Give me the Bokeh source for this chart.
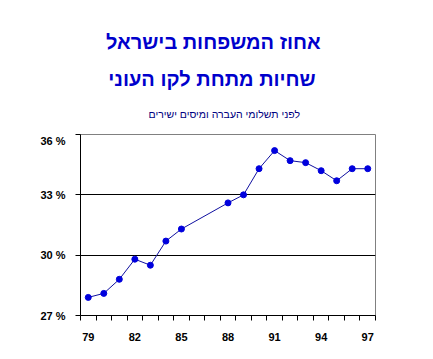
from bokeh.plotting import figure
from bokeh.layouts import column
from bokeh.models import FixedTicker, Range1d, PrintfTickFormatter
from bokeh.core.properties import value
from bokeh.embed import file_html
from bokeh.resources import INLINE

years = [79, 80, 81, 82, 83, 84, 85, 88, 89, 90, 91, 92, 93, 94, 95, 96, 97]
poverty = [27.9, 28.1, 28.8, 29.8, 29.5, 30.7, 31.3, 32.6, 33.0, 34.3, 35.2, 34.7, 34.6, 34.2, 33.7, 34.3, 34.3]
x_tick_labels = [79, 82, 85, 88, 91, 94, 97]
y_ticks = [27, 30, 33, 36]
title_line1 = "אחוז המשפחות בישראל"
title_line2 = "שחיות מתחת לקו העוני"
subtitle = "לפני תשלומי העברה ומיסים ישירים"

# header panel (pixel coordinates, y downwards)
h = figure(width=433, height=134, output_backend="svg", toolbar_location=None,
           x_range=Range1d(0, 433), y_range=Range1d(134, 0),
           x_axis_location=None, y_axis_location=None,
           min_border=0, min_border_left=0, min_border_right=0,
           min_border_top=0, min_border_bottom=0)
h.grid.visible = False
h.outline_line_color = None
h.background_fill_color = "white"
h.border_fill_color = "white"
h.text(x=[195], y=[41], text=[title_line1], text_align="center", text_baseline="middle",
       text_font=value("Liberation Sans"), text_font_style="bold",
       text_font_size="20px", text_color="#0000CC")
h.text(x=[193], y=[78], text=[title_line2], text_align="center", text_baseline="middle",
       text_font=value("Liberation Sans"), text_font_style="bold",
       text_font_size="20px", text_color="#0000CC")
h.text(x=[211], y=[113], text=[subtitle], text_align="center", text_baseline="middle",
       text_font=value("Liberation Sans"), text_font_size="10.5px", text_color="#000080")

p = figure(width=433, height=225, output_backend="svg", toolbar_location=None,
           x_range=Range1d(78.5, 97.5), y_range=Range1d(27, 36),
           min_border_left=80, min_border_right=58, min_border_top=0, min_border_bottom=44)
p.background_fill_color = "white"
p.border_fill_color = "white"
p.outline_line_color = "#808080"
p.outline_line_width = 1

# x axis
p.xaxis.ticker = FixedTicker(ticks=x_tick_labels,
                             minor_ticks=[78.5 + i for i in range(20)])
p.xaxis.major_tick_out = 0
p.xaxis.major_tick_in = 0
p.xaxis.minor_tick_out = 5
p.xaxis.minor_tick_in = 0
p.xaxis.minor_tick_line_color = "black"
p.xaxis.axis_line_color = "black"
p.xaxis.major_label_standoff = 12
p.xaxis.major_label_text_font = "Liberation Sans"
p.xaxis.major_label_text_font_style = "bold"
p.xaxis.major_label_text_font_size = "11px"
p.xaxis.major_label_text_color = "black"

# y axis
p.yaxis.ticker = FixedTicker(ticks=y_ticks)
p.yaxis.formatter = PrintfTickFormatter(format="%d %%")
p.yaxis.major_tick_out = 5
p.yaxis.major_tick_in = 0
p.yaxis.minor_tick_out = 0
p.yaxis.minor_tick_in = 0
p.yaxis.axis_line_color = "black"
p.yaxis.major_tick_line_color = "black"
p.yaxis.major_label_standoff = 10
p.yaxis.major_label_text_font = "Liberation Sans"
p.yaxis.major_label_text_font_style = "bold"
p.yaxis.major_label_text_font_size = "11px"
p.yaxis.major_label_text_color = "black"

p.xgrid.visible = False
p.ygrid.ticker = FixedTicker(ticks=[30, 33])
p.ygrid.grid_line_color = "black"
p.ygrid.grid_line_width = 1

p.line(years, poverty, line_color="#1010A0", line_width=1)
p.scatter(years, poverty, size=6, fill_color="#0000DD", line_color="#0000DD")

layout = column(h, p, spacing=0)
open("out.html", "w").write(file_html(layout, INLINE))
